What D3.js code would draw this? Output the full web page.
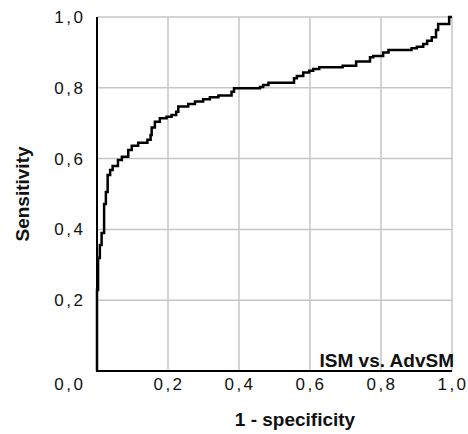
<!DOCTYPE html>
<html>
<head>
<meta charset="utf-8">
<script src="https://cdn.jsdelivr.net/npm/d3@7"></script>
<style>
  html, body { margin: 0; padding: 0; background: #fff; }
  svg { display: block; }
  .tick-label { font-family: "Liberation Sans", Arial, sans-serif; font-size: 17px; letter-spacing: 2.5px; fill: #111; }
  .title { font-family: "Liberation Sans", Arial, sans-serif; font-size: 19px; font-weight: bold; fill: #111; }
</style>
</head>
<body>
<script>
// ROC operating points (1 - specificity, sensitivity), each the top of a vertical step
const fpr = [0, 0, 0.003, 0.008, 0.013, 0.020, 0.025, 0.030, 0.037, 0.044, 0.059, 0.070, 0.088, 0.098, 0.116,
  0.142, 0.151, 0.154, 0.163, 0.177, 0.196, 0.210, 0.223, 0.229, 0.257, 0.276, 0.299, 0.318, 0.342, 0.379,
  0.386, 0.459, 0.468, 0.483, 0.555, 0.563, 0.581, 0.598, 0.609, 0.626, 0.692, 0.730, 0.769, 0.778, 0.806,
  0.821, 0.886, 0.901, 0.919, 0.930, 0.943, 0.955, 0.961, 0.992, 1.0];
const tpr = [0, 0.229, 0.319, 0.356, 0.390, 0.472, 0.506, 0.554, 0.568, 0.579, 0.596, 0.605, 0.624, 0.636, 0.645,
  0.653, 0.667, 0.688, 0.704, 0.714, 0.718, 0.723, 0.732, 0.747, 0.754, 0.761, 0.768, 0.773, 0.778, 0.789,
  0.799, 0.802, 0.808, 0.814, 0.827, 0.833, 0.843, 0.848, 0.853, 0.858, 0.862, 0.874, 0.886, 0.890, 0.900,
  0.907, 0.912, 0.916, 0.924, 0.933, 0.943, 0.963, 0.980, 1.0, 1.0];

const xTicks = [0.2, 0.4, 0.6, 0.8, 1.0];
const yTicks = [0.2, 0.4, 0.6, 0.8, 1.0];
const xTitle = "1 - specificity";
const yTitle = "Sensitivity";
const curveLabel = "ISM vs. AdvSM";

const W = 468, H = 434;
const plotLeft = 97, plotRight = 452, plotTop = 17, plotBottom = 371;
const fmt = v => d3.format(".1f")(v).replace(".", ",");

const svg = d3.select("body").append("svg").attr("width", W).attr("height", H);

const x = d3.scaleLinear().domain([0, 1]).range([plotLeft, plotRight]);
const y = d3.scaleLinear().domain([0, 1]).range([plotBottom, plotTop]);

// grid (includes top and right frame lines)
svg.append("g").selectAll("line").data(xTicks).join("line")
  .attr("x1", d => x(d)).attr("x2", d => x(d))
  .attr("y1", plotTop).attr("y2", plotBottom)
  .attr("stroke", "#c6c6c6").attr("stroke-width", 1.5);
svg.append("g").selectAll("line").data(yTicks).join("line")
  .attr("x1", plotLeft).attr("x2", plotRight)
  .attr("y1", d => y(d)).attr("y2", d => y(d))
  .attr("stroke", "#c6c6c6").attr("stroke-width", 1.5);

// axis lines
svg.append("line").attr("x1", plotLeft).attr("x2", plotLeft).attr("y1", plotTop).attr("y2", plotBottom + 1)
  .attr("stroke", "#000").attr("stroke-width", 2);
svg.append("line").attr("x1", plotLeft - 1).attr("x2", plotRight).attr("y1", plotBottom).attr("y2", plotBottom)
  .attr("stroke", "#000").attr("stroke-width", 2);

// ROC curve
const pts = fpr.map((f, i) => [f, tpr[i]]);
const line = d3.line().x(d => x(d[0])).y(d => y(d[1])).curve(d3.curveStepAfter);
svg.append("path").datum(pts).attr("d", line)
  .attr("fill", "none").attr("stroke", "#000").attr("stroke-width", 2.5)
  .attr("stroke-linejoin", "miter");

// tick labels
svg.append("g").selectAll("text").data(xTicks).join("text")
  .attr("class", "tick-label")
  .attr("x", d => x(d) + 1).attr("y", 390)
  .attr("text-anchor", "middle")
  .text(fmt);
svg.append("g").selectAll("text").data(yTicks).join("text")
  .attr("class", "tick-label")
  .attr("x", 85.5).attr("y", d => y(d) + 6)
  .attr("text-anchor", "end")
  .text(fmt);
svg.append("text").attr("class", "tick-label")
  .attr("x", 85.5).attr("y", 390).attr("text-anchor", "end").text(fmt(0));

// titles
svg.append("text").attr("class", "title")
  .attr("x", 295).attr("y", 426).attr("text-anchor", "middle").text(xTitle);
svg.append("text").attr("class", "title")
  .attr("transform", "translate(29,194) rotate(-90)")
  .attr("text-anchor", "middle").text(yTitle);

// curve label
svg.append("text").attr("class", "title")
  .attr("x", 454).attr("y", 367).attr("text-anchor", "end").text(curveLabel);
</script>
</body>
</html>
